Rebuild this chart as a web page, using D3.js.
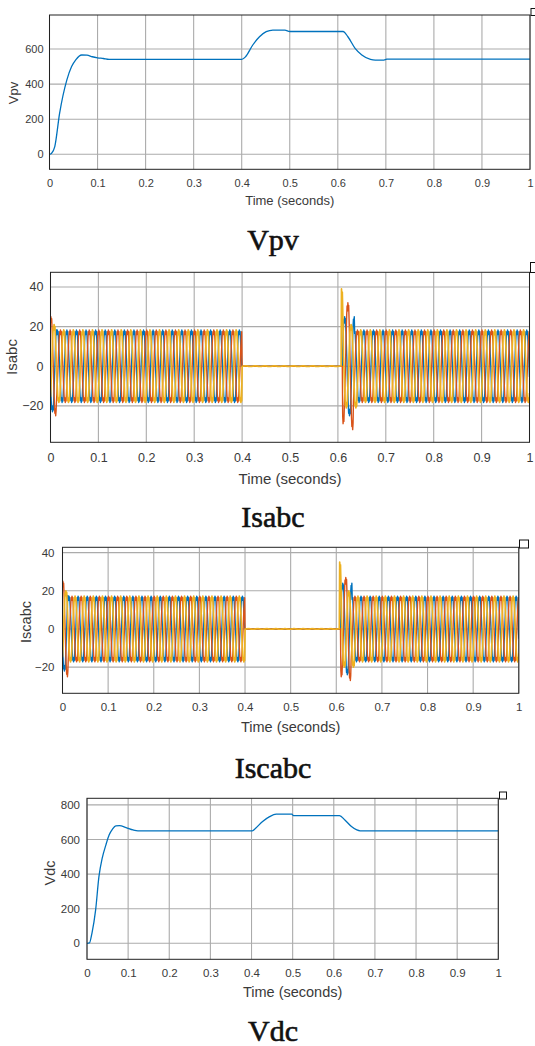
<!DOCTYPE html>
<html>
<head>
<meta charset="utf-8">
<script src="https://cdn.jsdelivr.net/npm/d3@7"></script>
<style>
  body { margin: 0; background: #fff; }
  svg { display: block; }
</style>
</head>
<body>
<svg id="chart" width="535" height="1046"></svg>
<script>
/* global d3 */

// Eixo x comum aos quatro gráficos
const X_TICKS = [0, 0.1, 0.2, 0.3, 0.4, 0.5, 0.6, 0.7, 0.8, 0.9, 1]
const X_TICK_LABELS = ['0', '0.1', '0.2', '0.3', '0.4', '0.5', '0.6', '0.7', '0.8', '0.9', '1']

// Vpv
const VPV_TIME = [0, 0.004, 0.011, 0.021, 0.036, 0.046, 0.055, 0.067, 0.078, 0.089, 0.1, 0.112, 0.124,
  0.4, 0.408, 0.423, 0.437, 0.451, 0.465, 0.49, 0.5, 0.611, 0.621, 0.636, 0.65, 0.668, 0.678, 0.696, 0.702, 1]
const VPV_VALUES = [0, 5, 44, 233, 423, 500, 540, 566, 565, 556, 550, 546, 541,
  541, 556, 623, 670, 699, 708, 708, 700, 700, 670, 604, 566, 541, 537, 537, 542, 542]
const VPV_TICKS = [0, 200, 400, 600]

// Vdc
const VDC_TIME = [0, 0.006, 0.012, 0.021, 0.029, 0.037, 0.046, 0.054, 0.062, 0.07, 0.079, 0.095, 0.112, 0.124,
  0.402, 0.41, 0.427, 0.444, 0.46, 0.498, 0.502, 0.614, 0.627, 0.643, 0.656, 0.664, 1]
const VDC_VALUES = [0, 2, 58, 193, 385, 492, 569, 627, 660, 679, 680, 669, 655, 650,
  650, 665, 704, 732, 746, 746, 738, 738, 713, 675, 655, 650, 650]
const VDC_TICKS = [0, 200, 400, 600, 800]

const CURRENT_TICKS = [-20, 0, 20, 40]

// Um ciclo de 20 ms da corrente (p.u., 24 amostras) e desfasamento de cada fase em amostras
const CYCLE = 0.02
const WAVE_SHAPE = [0, 0.30, 0.56, 0.80, 0.95, 0.87, 1.0, 0.90, 0.96, 0.74, 0.50, 0.24,
  0, -0.30, -0.56, -0.80, -0.95, -0.87, -1.0, -0.90, -0.96, -0.74, -0.50, -0.24]
const PHASE_SHIFT = [13, 5, 21] // a, b, c

// Envolventes [inicio, fim, amplitude de pico] por fase
const ISABC_A = [[0, 0.012, 23], [0.012, 0.4, 18.3], [0.4, 0.61, 0], [0.61, 0.635, 25], [0.635, 1.01, 18.3]]
const ISABC_B = [[0, 0.012, 25], [0.012, 0.4, 18.3], [0.4, 0.61, 0], [0.61, 0.616, 29], [0.616, 0.632, 32], [0.632, 1.01, 18.3]]
const ISABC_C = [[0, 0.012, 21], [0.012, 0.4, 18.3], [0.4, 0.607, 0.15], [0.607, 0.611, 39], [0.611, 0.64, 21], [0.64, 1.01, 18.3]]

const ISCABC_A = [[0, 0.012, 22], [0.012, 0.4, 17.2], [0.4, 0.61, 0], [0.61, 0.635, 24], [0.635, 1.01, 17.2]]
const ISCABC_B = [[0, 0.012, 25], [0.012, 0.4, 17.2], [0.4, 0.61, 0], [0.61, 0.616, 25], [0.616, 0.632, 27], [0.632, 1.01, 17.2]]
const ISCABC_C = [[0, 0.012, 20], [0.012, 0.4, 17.2], [0.4, 0.607, 0.15], [0.607, 0.611, 35], [0.611, 0.64, 20], [0.64, 1.01, 17.2]]

const PHASE_COLORS = ['#0072bd', '#d95319', '#edb120']
const PHASE_WIDTHS = [1.4, 1.4, 1.7]
const LINE_COLOR = '#0072bd'

function zip (times, values) {
  return times.map((t, i) => [t, values[i]])
}

// Constroi a forma de onda de uma fase a partir do ciclo e da envolvente
function buildPhase (env, shift) {
  const n = WAVE_SHAPE.length
  const dt = CYCLE / n
  const pts = []
  for (let i = 0; i <= Math.round(1 / dt); i++) {
    const t = i * dt
    const seg = env.find(s => t >= s[0] && t < s[1]) || env[env.length - 1]
    pts.push([t, WAVE_SHAPE[(i + shift) % n] * seg[2]])
  }
  return pts
}

function phaseSeries (envs) {
  return envs.map((env, i) => ({
    points: buildPhase(env, PHASE_SHIFT[i]),
    color: PHASE_COLORS[i],
    width: PHASE_WIDTHS[i]
  }))
}

const svg = d3.select('#chart')

function drawPanel (cfg) {
  const x = d3.scaleLinear().domain([0, 1]).range([cfg.left, cfg.right])
  const y = d3.scaleLinear().domain(cfg.yDomain).range([cfg.bottom, cfg.top])
  const g = svg.append('g')

  const clipId = 'clip-' + cfg.id
  g.append('clipPath').attr('id', clipId)
    .append('rect')
    .attr('x', cfg.left).attr('y', cfg.top)
    .attr('width', cfg.right - cfg.left).attr('height', cfg.bottom - cfg.top)

  // grelha
  g.append('g').selectAll('line')
    .data(X_TICKS)
    .join('line')
    .attr('x1', d => x(d)).attr('x2', d => x(d))
    .attr('y1', cfg.top).attr('y2', cfg.bottom)
    .attr('stroke', '#ababab').attr('stroke-width', 1.1)
  g.append('g').selectAll('line')
    .data(cfg.yTicks)
    .join('line')
    .attr('x1', cfg.left).attr('x2', cfg.right)
    .attr('y1', d => y(d)).attr('y2', d => y(d))
    .attr('stroke', '#ababab').attr('stroke-width', 1.1)

  const line = d3.line()
    .x(d => x(d[0]))
    .y(d => y(d[1]))
    .curve(cfg.curve || d3.curveLinear)

  g.append('g').attr('clip-path', `url(#${clipId})`)
    .selectAll('path')
    .data(cfg.series)
    .join('path')
    .attr('d', d => line(d.points))
    .attr('fill', 'none')
    .attr('stroke', d => d.color)
    .attr('stroke-width', d => d.width || 1.3)
    .attr('stroke-linejoin', 'round')

  g.append('rect')
    .attr('x', cfg.left).attr('y', cfg.top)
    .attr('width', cfg.right - cfg.left).attr('height', cfg.bottom - cfg.top)
    .attr('fill', 'none').attr('stroke', '#222').attr('stroke-width', 1)

  const xAxis = g.append('g')
    .attr('transform', `translate(0,${cfg.bottom})`)
    .call(d3.axisBottom(x).tickValues(X_TICKS).tickFormat((d, i) => X_TICK_LABELS[i]).tickSize(0))
  xAxis.select('.domain').remove()
  xAxis.selectAll('text')
    .attr('y', cfg.tickY - cfg.bottom).attr('dy', '0.35em')
    .style('font-family', 'Liberation Sans, Arial, sans-serif')
    .style('font-size', cfg.tickFont + 'px')
    .attr('fill', '#3a3a3a')

  const yAxis = g.append('g')
    .attr('transform', `translate(${cfg.left},0)`)
    .call(d3.axisLeft(y).tickValues(cfg.yTicks).tickSize(0).tickPadding(cfg.tickGap))
  yAxis.select('.domain').remove()
  yAxis.selectAll('text')
    .style('font-family', 'Liberation Sans, Arial, sans-serif')
    .style('font-size', cfg.tickFont + 'px')
    .attr('fill', '#3a3a3a')

  g.append('text')
    .attr('x', (cfg.left + cfg.right) / 2).attr('y', cfg.xLabelY)
    .attr('dy', '0.35em')
    .attr('text-anchor', 'middle')
    .style('font-family', 'Liberation Sans, Arial, sans-serif')
    .style('font-size', cfg.labelFont + 'px')
    .attr('fill', '#3a3a3a')
    .text('Time (seconds)')

  g.append('text')
    .attr('transform', `translate(${cfg.yLabelX},${cfg.yLabelY}) rotate(-90)`)
    .attr('dy', '0.35em')
    .attr('text-anchor', 'middle')
    .style('font-family', 'Liberation Sans, Arial, sans-serif')
    .style('font-size', cfg.labelFont + 'px')
    .attr('fill', '#3a3a3a')
    .text(cfg.yLabel)

  // legenda por baixo do gráfico
  g.append('text')
    .attr('x', 273).attr('y', cfg.captionY)
    .attr('dy', '0.35em')
    .attr('text-anchor', 'middle')
    .style('font-family', 'Liberation Serif, Times New Roman, serif')
    .style('font-size', '30px')
    .attr('fill', '#111')
    .attr('stroke', '#111').attr('stroke-width', 0.6)
    .text(cfg.caption)

  // pequeno icone do scope no canto
  const ic = cfg.icon
  g.append('rect')
    .attr('x', ic[0]).attr('y', ic[1]).attr('width', ic[2]).attr('height', ic[3])
    .attr('fill', '#fff').attr('stroke', '#111').attr('stroke-width', 1)
}

drawPanel({
  id: 'vpv',
  left: 49.5, right: 530, top: 15, bottom: 169.3,
  yDomain: [-85.5, 794], yTicks: VPV_TICKS,
  tickFont: 11, labelFont: 13, tickGap: 6,
  tickY: 182.7, xLabelY: 200, yLabelX: 13.7, yLabelY: 93,
  yLabel: 'Vpv', caption: 'Vpv', captionY: 239,
  icon: [531, 8.5, 8, 7],
  curve: d3.curveMonotoneX,
  series: [{ points: zip(VPV_TIME, VPV_VALUES), color: LINE_COLOR }]
})

drawPanel({
  id: 'isabc',
  left: 50.5, right: 529.5, top: 272.3, bottom: 442.3,
  yDomain: [-38.4, 47.4], yTicks: CURRENT_TICKS,
  tickFont: 12.5, labelFont: 15, tickGap: 7,
  tickY: 457.3, xLabelY: 478.3, yLabelX: 12, yLabelY: 357,
  yLabel: 'Isabc', caption: 'Isabc', captionY: 516.7,
  icon: [530.5, 262.5, 8, 10],
  series: phaseSeries([ISABC_A, ISABC_B, ISABC_C])
})

drawPanel({
  id: 'iscabc',
  left: 62.5, right: 518.8, top: 547.3, bottom: 693.3,
  yDomain: [-33.7, 42.8], yTicks: CURRENT_TICKS,
  tickFont: 11.5, labelFont: 14.5, tickGap: 8,
  tickY: 706.7, xLabelY: 726.7, yLabelX: 25.6, yLabelY: 622,
  yLabel: 'Iscabc', caption: 'Iscabc', captionY: 767.3,
  icon: [519.5, 540, 9, 8],
  series: phaseSeries([ISCABC_A, ISCABC_B, ISCABC_C])
})

drawPanel({
  id: 'vdc',
  left: 87, right: 498.3, top: 798.3, bottom: 959.3,
  yDomain: [-92.5, 838], yTicks: VDC_TICKS,
  tickFont: 11.5, labelFont: 14.5, tickGap: 7,
  tickY: 973.3, xLabelY: 991.7, yLabelX: 49.5, yLabelY: 873,
  yLabel: 'Vdc', caption: 'Vdc', captionY: 1030,
  icon: [499.5, 792, 7, 7],
  curve: d3.curveMonotoneX,
  series: [{ points: zip(VDC_TIME, VDC_VALUES), color: LINE_COLOR }]
})
</script>
</body>
</html>
